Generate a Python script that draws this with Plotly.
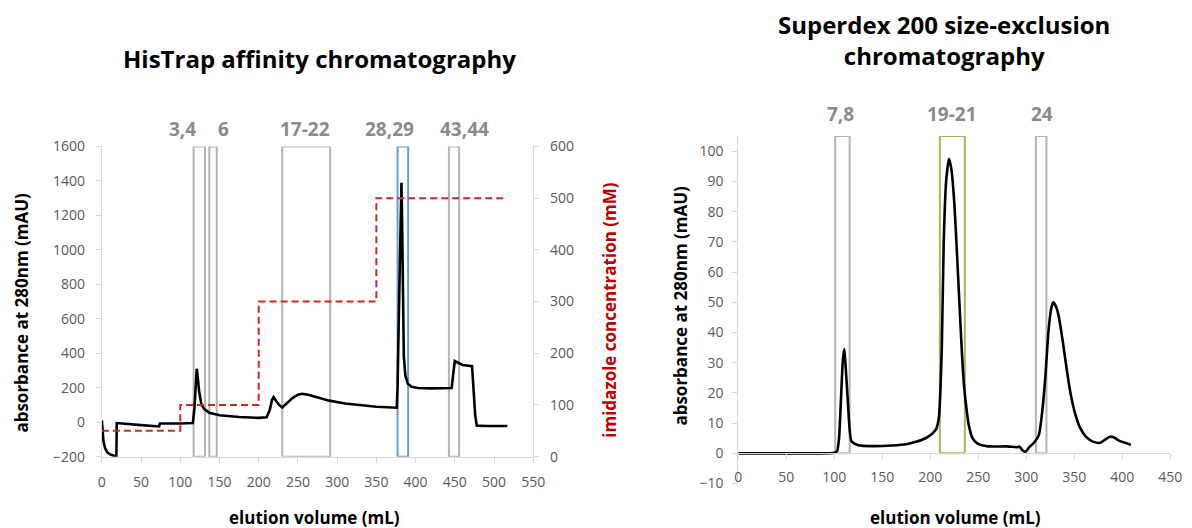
import plotly.graph_objects as go

# ---------------- Data: HisTrap affinity chromatography ----------------
his_volume = [0, 1, 2, 4, 7, 11, 15, 18.5, 19, 30, 50, 73, 74, 100, 116,
              118, 120, 121, 122, 124, 127, 131, 137, 150, 175, 200, 210,
              214, 217, 219, 222, 226, 230, 236, 243, 250, 255, 262, 275,
              290, 310, 330, 350, 376, 377, 379, 381, 382, 383, 384, 385,
              387, 390, 395, 403, 420, 440, 446, 448, 450, 453, 460, 472,
              474, 476, 478, 490, 517]
his_abs = [10, -60, -110, -150, -175, -188, -195, -200, -5, -10, -17, -25, -8, -8, -5,
           80, 250, 310, 270, 180, 100, 75, 55, 40, 30, 25, 28,
           70, 130, 145, 125, 100, 85, 110, 140, 160, 165, 160, 145,
           125, 108, 97, 90, 84, 200, 700, 1250, 1390, 1100, 600, 380,
           270, 225, 205, 198, 196, 195, 198, 280, 355, 348, 332, 325,
           200, 40, -20, -22, -22]

imid_volume = [0, 100, 100, 200, 200, 350, 350, 517]
imid_conc = [50, 50, 100, 100, 300, 300, 500, 500]

his_frac_labels = ["3,4", "6", "17-22", "28,29", "43,44"]
his_frac_label_x = [103, 155, 259, 367, 462]
his_box_start = [117, 137, 230, 377, 442.5]
his_box_end = [131.5, 146.5, 291, 390.5, 455.5]
his_box_color = ["#b4b4b4", "#b4b4b4", "#b4b4b4", "#6b9bd6", "#b4b4b4"]

# ---------------- Data: Superdex 200 size-exclusion ----------------
sec_volume = [0, 50, 100, 103, 105, 107, 109, 110.5, 112, 114, 116, 118, 125,
              140, 160, 175, 185, 195, 202, 206, 209, 212, 214, 216.5, 219.5,
              222, 225, 228, 230, 233, 235, 238, 240, 244, 249, 260, 280,
              290, 293, 296, 299, 303, 308, 313, 317, 320, 323, 326, 328,
              331, 334, 338, 342, 346, 351, 356, 362, 370, 377, 382, 387,
              391, 396, 403, 409]
sec_abs = [0, 0, 0.2, 0.8, 5, 18, 31, 34.5, 28, 18, 8, 4, 2.7,
           2.4, 2.6, 3, 3.8, 5, 6.5, 8, 12, 35, 70, 90, 97.5,
           94, 83, 65, 52, 33, 23, 14, 9.5, 5, 3.3, 2.3, 2.3,
           2, 2.2, 1, 0.5, 2, 3.5, 6, 15, 26, 40, 48, 50,
           48.5, 45, 37, 28, 20, 13, 8.5, 5.5, 3.8, 3.5, 4.5, 5.5,
           5.3, 4.3, 3.5, 2.8]

sec_frac_labels = ["7,8", "19-21", "24"]
sec_frac_label_x = [107, 223, 316.5]
sec_box_start = [101, 210, 310]
sec_box_end = [116, 236, 321]
sec_box_color = ["#b4b4b4", "#9bbb59", "#b4b4b4"]

his_xticks = list(range(0, 551, 50))
his_yticks = list(range(-200, 1601, 200))
imid_ticks = list(range(0, 601, 100))
sec_xticks = list(range(0, 451, 50))
sec_yticks = list(range(-10, 101, 10))

# ---------------- Layout constants ----------------
W, H = 1192, 540
# observed mapping of page pixels to photographed pixels
AX, BX, AY, BY = 0.988, 2.0, 0.958, 11.5
def px_x(p):
    return ((p - BX) / AX) / W
def px_y(p):
    return 1 - ((p - BY) / AY) / H

AXC = "#d9d9d9"
TICKC = "#595959"
FONT = "Open Sans"
tickfont = dict(family=FONT, size=14, color=TICKC)

fig = go.Figure()

fig.add_trace(go.Scatter(x=imid_volume, y=imid_conc, mode="lines",
                         line=dict(color="#d42424", width=2, dash="7px,4px"),
                         xaxis="x", yaxis="y2", showlegend=False))
fig.add_trace(go.Scatter(x=his_volume, y=his_abs, mode="lines",
                         line=dict(color="#000000", width=2.6),
                         xaxis="x", yaxis="y", showlegend=False))
fig.add_trace(go.Scatter(x=sec_volume, y=sec_abs, mode="lines",
                         line=dict(color="#000000", width=2.6, shape="spline", smoothing=0.6),
                         xaxis="x3", yaxis="y3", showlegend=False))

shapes = []
for x0, x1, c in zip(his_box_start, his_box_end, his_box_color):
    shapes.append(dict(type="rect", xref="x", yref="y", x0=x0, x1=x1, y0=-200, y1=1600,
                       line=dict(color=c, width=2), fillcolor="rgba(0,0,0,0)", layer="below"))
for x0, x1, c in zip(sec_box_start, sec_box_end, sec_box_color):
    shapes.append(dict(type="rect", xref="x3", yref="y3", x0=x0, x1=x1, y0=0, y1=105,
                       line=dict(color=c, width=2), fillcolor="rgba(0,0,0,0)", layer="below"))

annotations = []
labfont = dict(family=FONT, size=19, color="#8a8a8a", weight="bold")
for t, x in zip(his_frac_labels, his_frac_label_x):
    annotations.append(dict(text=t, x=x, xref="x", y=px_y(130), yref="paper",
                            showarrow=False, font=labfont, xanchor="center", yanchor="middle"))
for t, x in zip(sec_frac_labels, sec_frac_label_x):
    annotations.append(dict(text=t, x=x, xref="x3", y=px_y(115), yref="paper",
                            showarrow=False, font=labfont, xanchor="center", yanchor="middle"))

tfont = dict(family=FONT, size=24, color="#000000", weight="bold")
annotations.append(dict(text="HisTrap affinity chromatography", x=px_x(318), y=px_y(60),
                        xref="paper", yref="paper", showarrow=False, font=tfont,
                        xanchor="center", yanchor="middle"))
annotations.append(dict(text="Superdex 200 size-exclusion<br>chromatography", x=px_x(943), y=px_y(41),
                        xref="paper", yref="paper", showarrow=False, font=tfont,
                        xanchor="center", yanchor="middle"))

afont = dict(family=FONT, size=17, color="#000000", weight="bold")
annotations.append(dict(text="absorbance at 280nm (mAU)", x=px_x(20), y=px_y(312),
                        xref="paper", yref="paper", showarrow=False, font=afont, textangle=-90,
                        xanchor="center", yanchor="middle"))
annotations.append(dict(text="absorbance at 280nm (mAU)", x=px_x(680), y=px_y(305),
                        xref="paper", yref="paper", showarrow=False, font=afont, textangle=-90,
                        xanchor="center", yanchor="middle"))
annotations.append(dict(text="imidazole concentration (mM)", x=px_x(608), y=px_y(310),
                        xref="paper", yref="paper", showarrow=False,
                        font=dict(family=FONT, size=17, color="#c00000", weight="bold"), textangle=-90,
                        xanchor="center", yanchor="middle"))
annotations.append(dict(text="elution volume (mL)", x=px_x(313), y=px_y(515),
                        xref="paper", yref="paper", showarrow=False, font=afont,
                        xanchor="center", yanchor="middle"))
annotations.append(dict(text="elution volume (mL)", x=px_x(955), y=px_y(515),
                        xref="paper", yref="paper", showarrow=False, font=afont,
                        xanchor="center", yanchor="middle"))

axis_common = dict(showgrid=False, zeroline=False, showline=True, linecolor=AXC, linewidth=1,
                   ticks="outside", ticklen=5, tickcolor=AXC, tickfont=tickfont)

fig.update_layout(
    width=W, height=H, margin=dict(l=0, r=0, t=0, b=0),
    paper_bgcolor="white", plot_bgcolor="white", showlegend=False,
    xaxis=dict(domain=[px_x(100), px_x(532)], range=[0, 550], tickvals=his_xticks,
               anchor="y", ticklabelstandoff=8, **axis_common),
    yaxis=dict(domain=[px_y(455), px_y(147)], range=[-200, 1600], tickvals=his_yticks,
               anchor="x", ticklabelstandoff=8, **axis_common),
    yaxis2=dict(domain=[px_y(455), px_y(147)], range=[0, 600], tickvals=imid_ticks,
                overlaying="y", side="right", anchor="x", ticklabelstandoff=8, **axis_common),
    xaxis3=dict(domain=[px_x(737.3), px_x(1170)], range=[0, 450], tickvals=sec_xticks,
                anchor="free", position=px_y(451.7), ticklabelstandoff=6, **axis_common),
    yaxis3=dict(domain=[px_y(481.7), px_y(136.7)], range=[-10, 105], tickvals=sec_yticks,
                anchor="x3", ticklabelstandoff=6, **axis_common),
    shapes=shapes, annotations=annotations,
)

fig.write_html("out.html",
               post_script="document.body.style.margin='0';document.documentElement.style.overflow='hidden';")
